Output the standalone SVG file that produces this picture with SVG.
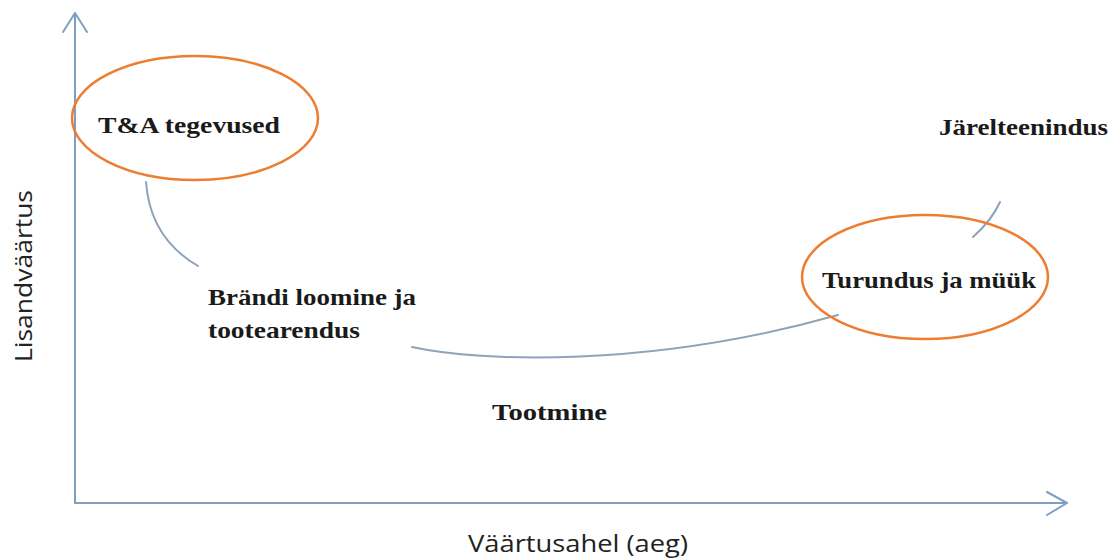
<svg xmlns="http://www.w3.org/2000/svg" width="1113" height="560" viewBox="0 0 1113 560">
<style>
.axis{fill:none;stroke:#7f9fc2;stroke-width:2;stroke-linecap:round;stroke-linejoin:round}
.curve{fill:none;stroke:#8ea3ba;stroke-width:2;stroke-linecap:round}
.ring{fill:none;stroke:#ed7d31;stroke-width:2.5}
.lbl{font-family:"Liberation Serif","Times New Roman",serif;font-weight:bold;font-size:24px;fill:#1a1a1a}
.ax{font-family:"Open Sans","Noto Sans",sans-serif;font-size:24px;fill:#222}
</style>
<rect width="1113" height="560" fill="#fff"/>
<g id="axes">
<path class="axis" d="M75,503 V13 M63,32 L75,13 L87,32"/>
<path class="axis" d="M75,503 H1067 M1047,492 L1067,503 L1047,515"/>
<text class="ax" transform="translate(32,276) rotate(-90)" text-anchor="middle" textLength="172" lengthAdjust="spacingAndGlyphs">Lisandväärtus</text>
<text class="ax" x="578" y="552" text-anchor="middle" textLength="220" lengthAdjust="spacingAndGlyphs">Väärtusahel (aeg)</text>
</g>
<g id="connectors">
<path class="curve" d="M146,182 Q150,238 198,266"/>
<path class="curve" d="M412,347 C480,362 650,368 838,315"/>
<path class="curve" d="M973,237 Q992,220 1000,202"/>
</g>
<g id="node-ta">
<ellipse class="ring" cx="195" cy="118" rx="123" ry="62"/>
<text class="lbl" x="98" y="133" textLength="182" lengthAdjust="spacingAndGlyphs">T&amp;A tegevused</text>
</g>
<g id="node-brand">
<text class="lbl" x="208" y="305" textLength="208" lengthAdjust="spacingAndGlyphs">Brändi loomine ja</text>
<text class="lbl" x="208" y="338" textLength="152" lengthAdjust="spacingAndGlyphs">tootearendus</text>
</g>
<g id="node-tootmine">
<text class="lbl" x="492" y="420" textLength="115" lengthAdjust="spacingAndGlyphs">Tootmine</text>
</g>
<g id="node-turundus">
<ellipse class="ring" cx="925" cy="277" rx="123" ry="62"/>
<text class="lbl" x="822" y="288" textLength="214" lengthAdjust="spacingAndGlyphs">Turundus ja müük</text>
</g>
<g id="node-jarel">
<text class="lbl" x="939" y="135" textLength="169" lengthAdjust="spacingAndGlyphs">Järelteenindus</text>
</g>
</svg>
